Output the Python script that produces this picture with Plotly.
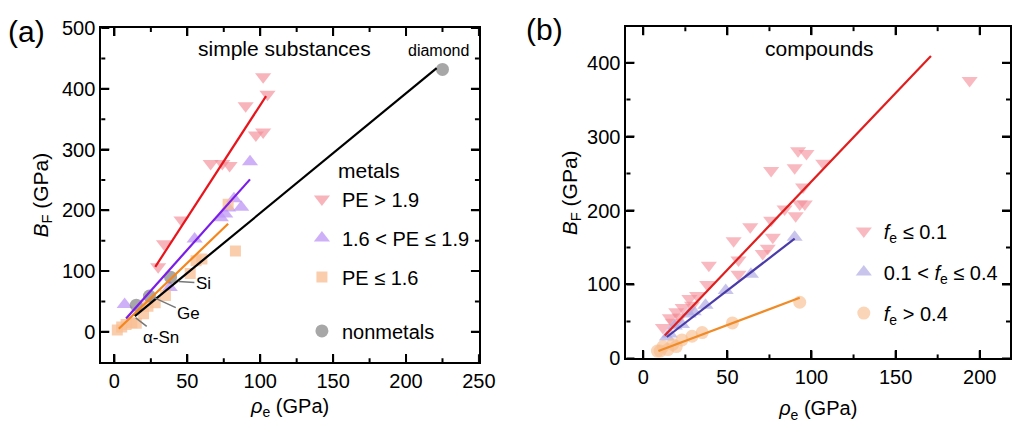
import plotly.graph_objects as go

# ---------------- Panel (a): simple substances ----------------
a_pe_hi_x = [102, 105, 90, 97, 102, 66, 74, 79, 46, 34, 30]
a_pe_hi_y = [420, 391, 372, 324, 329, 277, 277, 274, 184, 145, 107]
a_pe_mid_x = [93, 82, 87, 76, 73, 78, 55, 38, 7]
a_pe_mid_y = [280, 219, 205, 194, 188, 204, 153, 73, 45]
a_pe_lo_x = [2, 5, 8, 12, 15, 20, 23, 28, 35, 52, 56, 60, 78, 83]
a_pe_lo_y = [3, 8, 12, 15, 14, 30, 42, 48, 60, 96, 117, 120, 210, 133]
a_nonmetal_x = [15, 24, 38.5, 225]
a_nonmetal_y = [44, 59, 90, 432]

a_fit_hi_x, a_fit_hi_y = [28, 104], [107, 388]
a_fit_mid_x, a_fit_mid_y = [8, 93], [22, 251]
a_fit_lo_x, a_fit_lo_y = [3, 78], [5, 178]
a_fit_nm_x, a_fit_nm_y = [14, 221], [26, 434]

# ---------------- Panel (b): compounds ----------------
b_f1_x = [194, 92, 97, 90, 76, 107, 84, 93, 95, 90.6, 96, 76, 63.6, 53.7, 77, 74, 71,
          56.6, 56.6, 39, 38, 32, 27.4, 29, 23.4, 19.6, 15.8, 11.7, 17.5, 21.6]
b_f1_y = [376, 281, 277, 258, 254, 264, 202, 209, 232, 193, 209, 187, 178, 159, 164, 149, 142,
          133, 114, 126, 100, 85, 81, 72, 69, 63, 55, 42, 49, 56]
b_f2_x = [90, 64, 49, 37, 30, 27, 23, 18.7, 15.8, 14]
b_f2_y = [164, 114, 92, 72, 63, 60, 46, 44, 33, 29]
b_f3_x = [93, 53, 35, 29, 23, 17.5, 11.7, 10, 14.6, 19.6, 8.4]
b_f3_y = [76, 48, 35, 30, 25, 19, 16, 10, 12, 16, 10]

b_fit1_x, b_fit1_y = [12.8, 171], [31, 409]
b_fit2_x, b_fit2_y = [14, 90], [29, 162]
b_fit3_x, b_fit3_y = [9, 93], [10, 82]

# tick values
a_xticks = [0, 50, 100, 150, 200, 250]
a_xminor = [25, 75, 125, 175, 225]
a_yticks = [0, 100, 200, 300, 400, 500]
a_yminor = [50, 150, 250, 350, 450]
b_xticks = [0, 50, 100, 150, 200]
b_xminor = [25, 75, 125, 175]
b_yticks = [0, 100, 200, 300, 400]
b_yminor = [50, 150, 250, 350]

a_xrange, a_yrange = [-9, 250], [-50, 500]
b_xrange, b_yrange = [-10, 218], [0, 448]

FONT = "Arial, Liberation Sans, sans-serif"
W, H = 1027, 434

def px_x(p):
    return p / W

def px_y(p):
    return (H - p) / H

fig = go.Figure()

fig.add_trace(go.Scatter(x=a_pe_hi_x, y=a_pe_hi_y, mode="markers", name="PE > 1.9",
                         marker=dict(symbol="triangle-down", size=14, color="rgba(243,140,150,0.65)"),
                         xaxis="x", yaxis="y", legend="legend", legendgroup="g1"))
fig.add_trace(go.Scatter(x=a_pe_mid_x, y=a_pe_mid_y, mode="markers", name="1.6 < PE ≤ 1.9",
                         marker=dict(symbol="triangle-up", size=14, color="rgba(190,150,245,0.75)"),
                         xaxis="x", yaxis="y", legend="legend", legendgroup="g2"))
fig.add_trace(go.Scatter(x=a_pe_lo_x, y=a_pe_lo_y, mode="markers", name="PE ≤ 1.6",
                         marker=dict(symbol="square", size=11, color="rgba(248,190,145,0.75)"),
                         xaxis="x", yaxis="y", legend="legend", legendgroup="g3"))
fig.add_trace(go.Scatter(x=a_nonmetal_x, y=a_nonmetal_y, mode="markers", name="nonmetals",
                         marker=dict(symbol="circle", size=13, color="rgba(120,120,120,0.65)"),
                         xaxis="x", yaxis="y", legend="legend2"))
for fx, fy, col in [(a_fit_hi_x, a_fit_hi_y, "#e8141c"), (a_fit_mid_x, a_fit_mid_y, "#7a1de8"),
                    (a_fit_lo_x, a_fit_lo_y, "#f4861c"), (a_fit_nm_x, a_fit_nm_y, "#000000")]:
    fig.add_trace(go.Scatter(x=fx, y=fy, mode="lines", line=dict(color=col, width=2.2),
                             showlegend=False, xaxis="x", yaxis="y"))

fig.add_trace(go.Scatter(x=b_f1_x, y=b_f1_y, mode="markers", name="<i>f</i><sub>e</sub> ≤ 0.1",
                         marker=dict(symbol="triangle-down", size=14, color="rgba(243,140,150,0.6)"),
                         xaxis="x2", yaxis="y2", legend="legend3", legendgroup="h1"))
fig.add_trace(go.Scatter(x=b_f2_x, y=b_f2_y, mode="markers", name="0.1 < <i>f</i><sub>e</sub> ≤ 0.4",
                         marker=dict(symbol="triangle-up", size=14, color="rgba(170,165,225,0.65)"),
                         xaxis="x2", yaxis="y2", legend="legend3", legendgroup="h2"))
fig.add_trace(go.Scatter(x=b_f3_x, y=b_f3_y, mode="markers", name="<i>f</i><sub>e</sub> > 0.4",
                         marker=dict(symbol="circle", size=13, color="rgba(248,190,145,0.65)"),
                         xaxis="x2", yaxis="y2", legend="legend3", legendgroup="h3"))
for fx, fy, col in [(b_fit1_x, b_fit1_y, "#e01e1e"), (b_fit2_x, b_fit2_y, "#4a3ca8"),
                    (b_fit3_x, b_fit3_y, "#f08c28")]:
    fig.add_trace(go.Scatter(x=fx, y=fy, mode="lines", line=dict(color=col, width=2.2),
                             showlegend=False, xaxis="x2", yaxis="y2"))

def axis(domain, rng, anchor, tickvals, title, tsize, standoff):
    return dict(showline=True, mirror="allticks", ticks="inside", ticklen=8, tickwidth=2,
                tickcolor="black", linewidth=2, linecolor="black", showgrid=False,
                zeroline=False, tickvals=tickvals,
                tickfont=dict(family=FONT, size=20, color="black"), range=rng,
                domain=domain, anchor=anchor,
                title=dict(text=title, font=dict(size=tsize), standoff=standoff))

RHO = "<i>ρ</i><sub>e</sub> (GPa)"
BF = "<i>B</i><sub>F</sub> (GPa)"

fig.update_layout(
    width=W, height=H, margin=dict(l=0, r=0, t=0, b=0),
    paper_bgcolor="white", plot_bgcolor="white",
    font=dict(family=FONT, color="black"),
    xaxis=axis([px_x(103), px_x(487)], a_xrange, "y", a_xticks, RHO, 20, 8),
    yaxis=axis([px_y(370), px_y(18)], a_yrange, "x", a_yticks, BF, 21, 8),
    xaxis2=axis([px_x(637), 1.0], b_xrange, "y2", b_xticks, RHO, 20, 14),
    yaxis2=axis([px_y(366), px_y(17)], b_yrange, "x2", b_yticks, BF, 21, 4),
    legend=dict(x=px_x(307), xanchor="left", y=px_y(239), yanchor="middle",
                bgcolor="rgba(0,0,0,0)", font=dict(size=20), traceorder="grouped",
                tracegroupgap=10, itemsizing="trace"),
    legend2=dict(x=px_x(307), xanchor="left", y=px_y(337), yanchor="middle",
                 bgcolor="rgba(0,0,0,0)", font=dict(size=20)),
    legend3=dict(x=px_x(858), xanchor="left", y=px_y(275), yanchor="middle",
                 bgcolor="rgba(0,0,0,0)", font=dict(size=20), traceorder="grouped",
                 tracegroupgap=12),
)

# tick marks on all four sides, placed through the axes' own scales
TICK = dict(color="black", width=2)
def add_xticks(xref, yref, vals, length):
    for v in vals:
        fig.add_shape(type="line", xref=xref, yref=yref + " domain", x0=v, x1=v,
                      ysizemode="pixel", yanchor=0, y0=0, y1=length, line=TICK, layer="above")
        fig.add_shape(type="line", xref=xref, yref=yref + " domain", x0=v, x1=v,
                      ysizemode="pixel", yanchor=1, y0=0, y1=-length, line=TICK, layer="above")

def add_yticks(xref, yref, vals, length):
    for v in vals:
        fig.add_shape(type="line", xref=xref + " domain", yref=yref, y0=v, y1=v,
                      xsizemode="pixel", xanchor=0, x0=0, x1=length, line=TICK, layer="above")
        fig.add_shape(type="line", xref=xref + " domain", yref=yref, y0=v, y1=v,
                      xsizemode="pixel", xanchor=1, x0=0, x1=-length, line=TICK, layer="above")

add_xticks("x", "y", a_xticks, 8)
add_xticks("x", "y", a_xminor, 4)
add_yticks("x", "y", a_yticks, 8)
add_yticks("x", "y", a_yminor, 4)
add_xticks("x2", "y2", b_xticks, 8)
add_xticks("x2", "y2", b_xminor, 4)
add_yticks("x2", "y2", b_yticks, 8)
add_yticks("x2", "y2", b_yminor, 4)

ann = []
ann.append(dict(text="(a)", xref="paper", yref="paper", x=px_x(6), y=px_y(22),
                xanchor="left", yanchor="middle", showarrow=False, font=dict(size=30)))
ann.append(dict(text="(b)", xref="paper", yref="paper", x=px_x(533), y=px_y(19),
                xanchor="left", yanchor="middle", showarrow=False, font=dict(size=30)))
ann.append(dict(text="simple substances", xref="paper", yref="paper", x=px_x(289), y=px_y(40),
                xanchor="center", yanchor="middle", showarrow=False, font=dict(size=21)))
ann.append(dict(text="compounds", xref="paper", yref="paper", x=px_x(833), y=px_y(40),
                xanchor="center", yanchor="middle", showarrow=False, font=dict(size=21)))
ann.append(dict(text="metals", xref="paper", yref="paper", x=px_x(342), y=px_y(168),
                xanchor="left", yanchor="middle", showarrow=False, font=dict(size=21)))
ann.append(dict(text="diamond", xref="x", yref="y", x=a_nonmetal_x[3] - 3, y=a_nonmetal_y[3] + 14,
                xanchor="center", yanchor="bottom", showarrow=False, font=dict(size=16)))
for label, tip_x, tip_y, tx, ty in [("Si", 44, 83, 61, 80), ("Ge", 27.5, 56, 51, 30),
                                    ("α-Sn", 14.6, 23, 32, -9)]:
    ann.append(dict(text=label, xref="x", yref="y", x=tip_x, y=tip_y, axref="x", ayref="y",
                    ax=tx, ay=ty, showarrow=True, arrowhead=0, arrowwidth=1.5,
                    arrowcolor="#777777", font=dict(size=17)))
fig.update_layout(annotations=ann)

fig.write_html("out.html")
